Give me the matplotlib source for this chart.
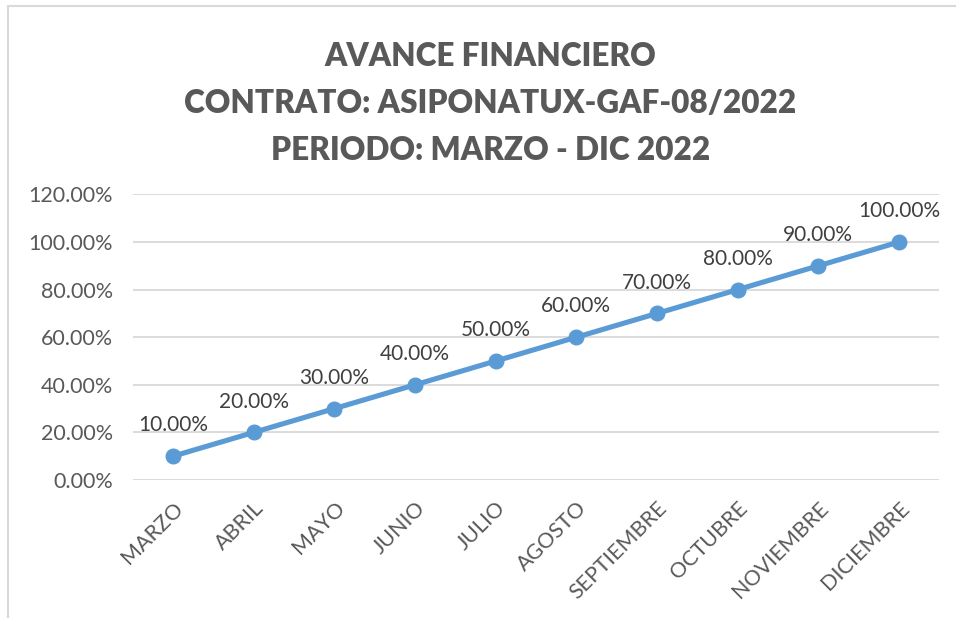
import matplotlib.pyplot as plt
from matplotlib.patches import Rectangle

meses = ["MARZO", "ABRIL", "MAYO", "JUNIO", "JULIO", "AGOSTO",
         "SEPTIEMBRE", "OCTUBRE", "NOVIEMBRE", "DICIEMBRE"]
avance = [10, 20, 30, 40, 50, 60, 70, 80, 90, 100]
y_ticks = [0, 20, 40, 60, 80, 100, 120]
titulo = ["AVANCE FINANCIERO", "CONTRATO: ASIPONATUX-GAF-08/2022",
          "PERIODO: MARZO - DIC 2022"]

gris = "#595959"
azul = "#5B9BD5"
plt.rcParams['font.family'] = ['Lato', 'DejaVu Sans']

fig = plt.figure(figsize=(9.56, 6.18), dpi=100)
fig.patches.append(Rectangle((8 / 956, -0.1), 1.2, 1 - 6 / 618 + 0.1,
                             transform=fig.transFigure, fill=False,
                             edgecolor="#D9D9D9", linewidth=1.5))

ax = fig.add_axes([0.1388, 0.2233, 0.8438, 0.4621])
x = list(range(len(meses)))
ax.plot(x, avance, color=azul, linewidth=3.7, marker="o", markersize=10.5,
        solid_capstyle="round")
for xi, v in zip(x, avance):
    ax.annotate(f"{v:.2f}%", (xi, v), xytext=(0, 15), textcoords="offset points",
                ha="center", va="bottom", fontsize=15, color="#404040")

ax.set_xlim(-0.5, len(meses) - 0.5)
ax.set_ylim(0, 120)
ax.set_yticks(y_ticks)
ax.set_yticklabels([f"{t:.2f}%" for t in y_ticks])
ax.set_xticks(x)
ax.set_xticklabels(meses, rotation=45, ha="right", va="top", rotation_mode="anchor")
ax.tick_params(axis="both", length=0, labelsize=15.5, labelcolor=gris)
ax.tick_params(axis="y", pad=14)
ax.tick_params(axis="x", pad=13)
ax.grid(axis="y", color="#D9D9D9", linewidth=1.3)
ax.set_axisbelow(True)
for s in ax.spines.values():
    s.set_visible(False)

for i, linea in enumerate(titulo):
    fig.text(0.513, 1 - (57 + 46.5 * i) / 618, linea, ha="center", va="center",
             fontsize=22.7, fontweight="heavy", color=gris)

fig.savefig("out.png", dpi=100)
